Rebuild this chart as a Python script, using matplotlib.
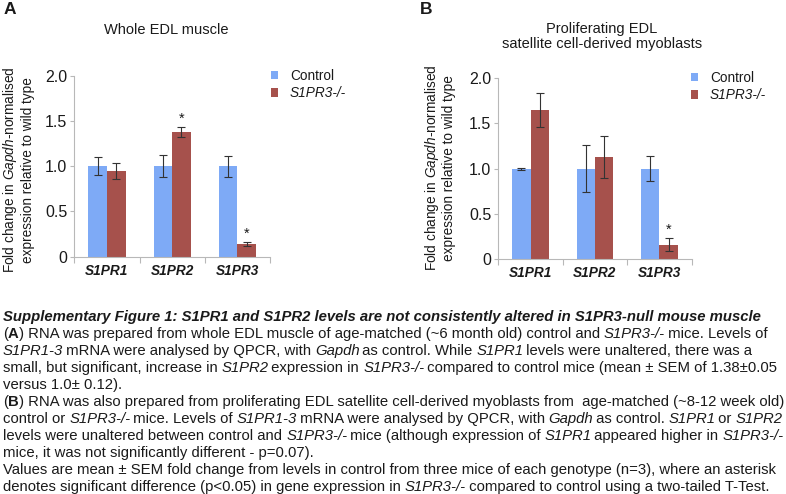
import matplotlib
matplotlib.use('Agg')
import matplotlib.pyplot as plt
import numpy as np

plt.rcParams['font.family'] = ['Liberation Sans', 'DejaVu Sans']
plt.rcParams['mathtext.fontset'] = 'custom'
plt.rcParams['mathtext.rm'] = 'Liberation Sans'
plt.rcParams['mathtext.it'] = 'Liberation Sans:italic'
plt.rcParams['mathtext.bf'] = 'Liberation Sans:bold'

# data
genes = ['S1PR1', 'S1PR2', 'S1PR3']
series = ['Control', 'S1PR3-/-']

a_ctrl = [1.0, 1.0, 1.0]
a_ctrl_err = [0.10, 0.12, 0.115]
a_ko = [0.95, 1.38, 0.14]
a_ko_err = [0.09, 0.055, 0.025]
a_sig = [False, True, True]

b_ctrl = [1.0, 1.0, 1.0]
b_ctrl_err = [0.01, 0.26, 0.14]
b_ko = [1.65, 1.13, 0.16]
b_ko_err = [0.185, 0.23, 0.075]
b_sig = [False, False, True]

yticks = [0, 0.5, 1.0, 1.5, 2.0]
ytick_labels = ['0', '0.5', '1.0', '1.5', '2.0']

blue = '#7eaaf6'
red = '#a6514c'
txt = '#1a1a1a'
spine = '#b8b8b8'

W, H = 786, 494
fig = plt.figure(figsize=(7.86, 4.94), dpi=100)


def px(x, y):
    return x / W, 1 - y / H


def panel(rect, ctrl, ctrl_err, ko, ko_err, sig, legend_xy):
    ax = fig.add_axes(rect)
    x = np.arange(len(genes))
    w = 0.285
    ax.bar(x - w / 2, ctrl, w, color=blue, label=series[0], zorder=2)
    ax.bar(x + w / 2, ko, w, color=red, label=series[1], zorder=2)
    ax.errorbar(x - w / 2, ctrl, yerr=ctrl_err, fmt='none', ecolor='#333333',
                elinewidth=0.8, capsize=3, capthick=0.8, zorder=3)
    ax.errorbar(x + w / 2, ko, yerr=ko_err, fmt='none', ecolor='#333333',
                elinewidth=0.8, capsize=3, capthick=0.8, zorder=3)
    for xi, v, e, s in zip(x, ko, ko_err, sig):
        if s:
            ax.annotate('*', (xi + w / 2, v + e), xytext=(0, 1),
                        textcoords='offset points', ha='center', va='bottom',
                        fontsize=10.5, color=txt)
    ax.set_xlim(-0.5, len(genes) - 0.5)
    ax.set_ylim(0, 2.0)
    ax.set_yticks(yticks)
    ax.set_yticklabels(ytick_labels, fontsize=11.5, color=txt)
    ax.set_xticks(x)
    ax.set_xticklabels(genes, fontsize=9.8, fontweight='bold',
                       fontstyle='italic', color=txt)
    ax.set_xticks(np.arange(len(genes) + 1) - 0.5, minor=True)
    ax.tick_params(axis='x', which='major', length=0, pad=5)
    ax.tick_params(axis='x', which='minor', length=4, color=spine, width=0.8)
    ax.tick_params(axis='y', length=3, color=spine, width=0.8, pad=2)
    for s in ['top', 'right']:
        ax.spines[s].set_visible(False)
    for s in ['left', 'bottom']:
        ax.spines[s].set_color(spine)
        ax.spines[s].set_linewidth(0.8)
    leg = ax.legend(loc='upper left', bbox_to_anchor=px(*legend_xy),
                    bbox_transform=fig.transFigure, frameon=False,
                    fontsize=9.8, handlelength=0.55, handleheight=0.55,
                    handletextpad=0.85, labelspacing=0.25, borderpad=0,
                    borderaxespad=0)
    for t in leg.get_texts():
        t.set_color(txt)
    leg.get_texts()[1].set_fontstyle('italic')
    return ax


panel([74.3 / W, 1 - 256.7 / H, 195.7 / W, 181 / H],
      a_ctrl, a_ctrl_err, a_ko, a_ko_err, a_sig, (271, 69))
panel([498.3 / W, 1 - 259 / H, 193.4 / W, 180.7 / H],
      b_ctrl, b_ctrl_err, b_ko, b_ko_err, b_sig, (691, 71))

# panel letters and titles
fig.text(*px(4, 9), 'A', fontsize=12.5, fontweight='bold', va='center', color=txt)
fig.text(*px(420, 9), 'B', fontsize=12.5, fontweight='bold', va='center', color=txt)
fig.text(*px(166, 30), 'Whole EDL muscle', fontsize=10.5, ha='center',
         va='center', color=txt)
fig.text(*px(602, 36.5), 'Proliferating EDL\nsatellite cell-derived myoblasts',
         fontsize=10.5, ha='center', va='center', color=txt, linespacing=1.1)

ylab = 'Fold change in $\\mathit{Gapdh}$-normalised\nexpression relative to wild type'
fig.text(*px(18, 170), ylab, rotation=90, fontsize=9.8, ha='center',
         va='center', color=txt, linespacing=1.15)
fig.text(*px(439.5, 168), ylab, rotation=90, fontsize=9.8, ha='center',
         va='center', color=txt, linespacing=1.15)

# caption, line by line with mixed styles
styles = {'n': {}, 'i': {'fontstyle': 'italic'}, 'b': {'fontweight': 'bold'},
          'bi': {'fontstyle': 'italic', 'fontweight': 'bold'}}
caption = [
    [('Supplementary Figure 1: S1PR1 and S1PR2 levels are not consistently altered in S1PR3-null mouse muscle', 'bi')],
    [('(', 'n'), ('A', 'b'), (') RNA was prepared from whole EDL muscle of age-matched (~6 month old) control and ', 'n'),
     ('S1PR3-/-', 'i'), (' mice. Levels of', 'n')],
    [('S1PR1-3', 'i'), (' mRNA were analysed by QPCR, with ', 'n'), ('Gapdh', 'i'),
     (' as control. While ', 'n'), ('S1PR1', 'i'), (' levels were unaltered, there was a', 'n')],
    [('small, but significant, increase in ', 'n'), ('S1PR2', 'i'), (' expression in ', 'n'),
     ('S1PR3-/-', 'i'), (' compared to control mice (mean \u00b1 SEM of 1.38\u00b10.05', 'n')],
    [('versus 1.0\u00b1 0.12).', 'n')],
    [('(', 'n'), ('B', 'b'), (') RNA was also prepared from proliferating EDL satellite cell-derived myoblasts from  age-matched (~8-12 week old)', 'n')],
    [('control or ', 'n'), ('S1PR3-/-', 'i'), (' mice. Levels of ', 'n'), ('S1PR1-3', 'i'),
     (' mRNA were analysed by QPCR, with ', 'n'), ('Gapdh', 'i'), (' as control. ', 'n'),
     ('S1PR1', 'i'), (' or ', 'n'), ('S1PR2', 'i')],
    [('levels were unaltered between control and ', 'n'), ('S1PR3-/-', 'i'),
     (' mice (although expression of ', 'n'), ('S1PR1', 'i'), (' appeared higher in ', 'n'),
     ('S1PR3-/-', 'i')],
    [('mice, it was not significantly different - p=0.07).', 'n')],
    [('Values are mean \u00b1 SEM fold change from levels in control from three mice of each genotype (n=3), where an asterisk', 'n')],
    [('denotes significant difference (p<0.05) in gene expression in ', 'n'), ('S1PR3-/-', 'i'),
     (' compared to control using a two-tailed T-Test.', 'n')],
]

renderer = fig.canvas.get_renderer()
cap_size = 10.75
for i, line in enumerate(caption):
    y = 317 + 17 * i
    x = 3
    for seg, st in line:
        t = fig.text(*px(x, y), seg, fontsize=cap_size, va='center',
                     color=txt, **styles[st])
        x += t.get_window_extent(renderer).width
        if st == 'i':
            x -= 1.5

fig.savefig('out.png', dpi=100)
